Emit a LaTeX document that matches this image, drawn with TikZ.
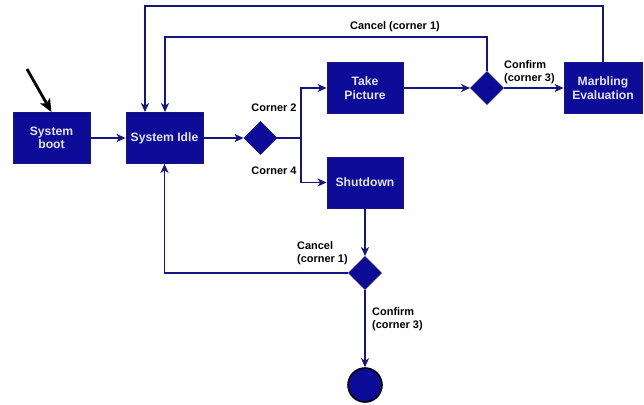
\documentclass[tikz,border=0pt]{standalone}
\usepackage{fontspec}
\setmainfont{Liberation Sans}
\usetikzlibrary{arrows.meta,shapes.geometric}
\definecolor{boxfill}{RGB}{12,12,152}
\definecolor{edgeblue}{RGB}{22,22,128}
\definecolor{boxtext}{RGB}{228,228,240}
\begin{document}
\begin{tikzpicture}[x=1bp,y=-1bp,
  state/.style={draw=edgeblue, fill=boxfill, line width=0.8bp,
    minimum width=77bp, minimum height=51bp, inner sep=0pt,
    text=boxtext, align=center,
    font=\fontsize{12.2}{13.5}\selectfont\bfseries},
  choice/.style={diamond, draw=edgeblue, fill=boxfill, line width=0.8bp,
    minimum width=33bp, minimum height=33bp, inner sep=0pt},
  lbl/.style={font=\fontsize{11}{13}\selectfont\bfseries, align=left, inner sep=0pt},
  link/.style={draw=edgeblue, line width=1.6bp},
  flow/.style={link, -{Stealth[length=9bp,width=8bp,inset=2.5bp]}}]
  \useasboundingbox (0,0) rectangle (644,404);

  % states
  \node[state] (boot) at (51.5,138) {System\\boot};
  \node[state] (idle) at (164.5,138) {System Idle};
  \node[state, minimum width=76bp] (take) at (365,88) {Take\\Picture};
  \node[state, minimum width=76bp] (shut) at (365,182.5) {Shutdown};
  \node[state, minimum width=78bp] (marb) at (603,88) {Marbling\\Evaluation};

  % decisions
  \node[choice] (d1) at (260.5,138) {};
  \node[choice] (d2) at (487,88) {};
  \node[choice] (d3) at (365,273) {};

  % final state
  \node[circle, draw=black, fill=boxfill, line width=1.6bp,
        minimum size=34bp, inner sep=0pt] (final) at (365,385) {};

  % helper points
  \coordinate (start) at (27,69);
  \coordinate (split) at (301,138);
  \coordinate (topR) at (603,6);
  \coordinate (topL) at (145,6);
  \coordinate (cancelL) at (165,37);

  % initial pointer
  \draw[black, line width=2.8bp, -{Stealth[length=13bp,width=11bp,inset=3bp]}] (start) -- (boot.north);

  % main flow
  \draw[flow] (boot) -- (idle);
  \draw[flow] (idle) -- (d1);
  \draw[link] (d1.east) -- (split);
  \draw[flow] (split) |- (take.west);
  \draw[flow] (split) |- (shut.west);
  \draw[flow] (take) -- (d2);
  \draw[flow] (d2) -- (marb);
  \draw[flow] (marb.north) -- (topR) -- (topL) -- (topL |- idle.north);
  \draw[flow] (d2.north) |- (cancelL) -- (cancelL |- idle.north);
  \draw[flow] (shut) -- (d3);
  \draw[flow] (d3.west) -| (idle.south);
  \draw[flow] (d3) -- (final);

  % labels
  \node[lbl] at (395,27) {Cancel (corner 1)};
  \node[lbl, anchor=west] at (504,72) {Confirm\\(corner 3)};
  \node[lbl] at (274,108) {Corner 2};
  \node[lbl] at (274,171) {Corner 4};
  \node[lbl, anchor=west] at (297,253) {Cancel\\(corner 1)};
  \node[lbl, anchor=west] at (372,319) {Confirm\\(corner 3)};
\end{tikzpicture}
\end{document}
